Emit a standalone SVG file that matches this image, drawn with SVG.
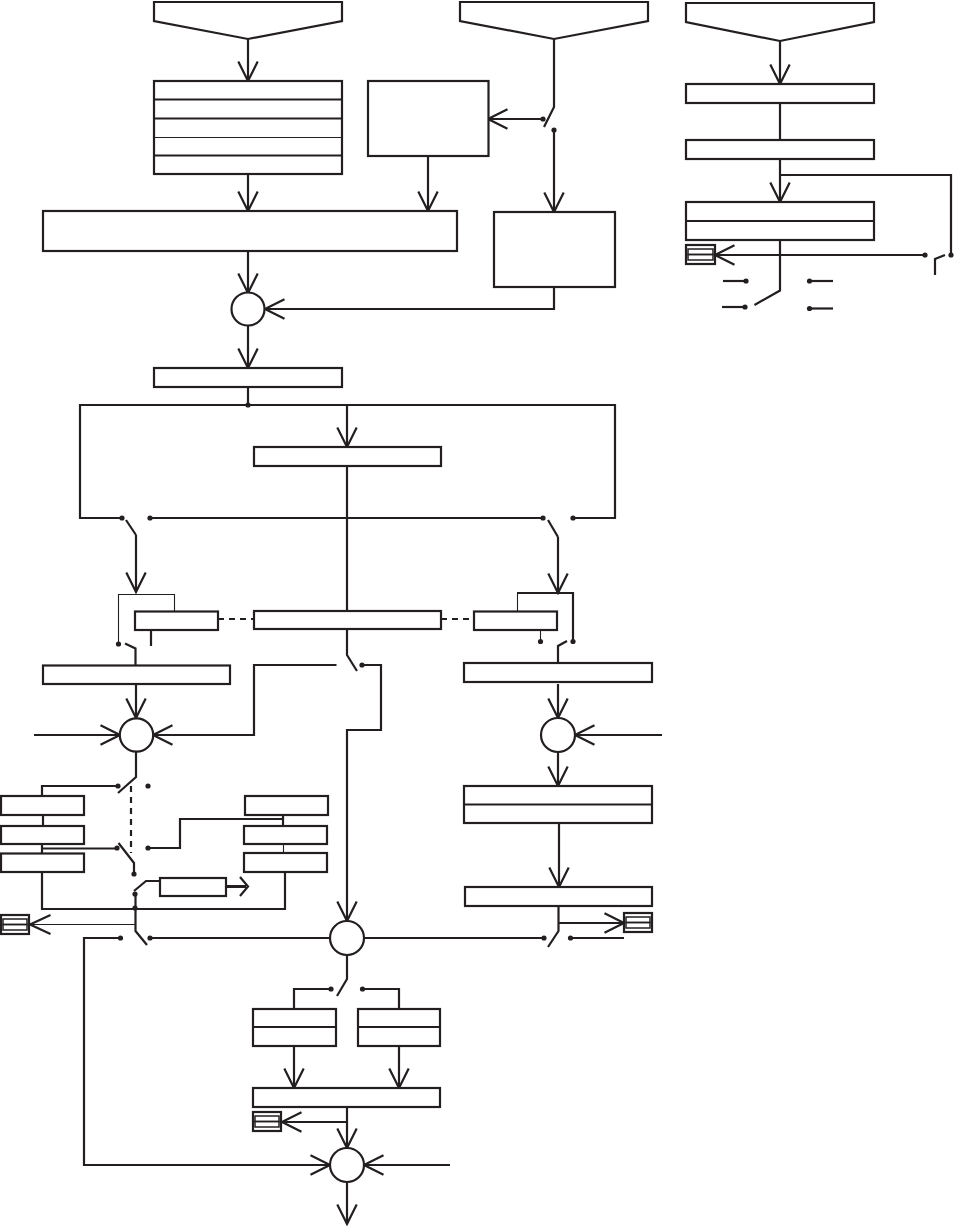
<svg xmlns="http://www.w3.org/2000/svg" width="954" height="1226" viewBox="0 0 954 1226">
<style>
.n{fill:#fff;stroke:#231f20;stroke-width:2.2}
.t{fill:none;stroke:#231f20;stroke-width:1.1}
.l{fill:none;stroke:#231f20;stroke-width:2.2}
.i{fill:none;stroke:#231f20;stroke-width:1.5}
.s{fill:none;stroke:#231f20;stroke-width:2.2;stroke-dasharray:6 5}
.a{marker-end:url(#arrow)}
.d{fill:#231f20}
</style>
<defs>
<marker id="arrow" markerUnits="userSpaceOnUse" viewBox="-22 -12 24 24" refX="0" refY="0" markerWidth="24" markerHeight="24" orient="auto">
<path d="M-19.500,-9.700 L0,0 L-19.500,9.700" fill="none" stroke="#231f20" stroke-width="2.200"/>
</marker>
<g id="dot"><circle r="2.600" class="d"/></g>
</defs>
<rect width="954" height="1226" fill="#fff"/>
<g id="connectors">
<path class="l a" d="M248,39V81"/>
<path class="l a" d="M248,174V211"/>
<path class="l a" d="M428,156V211"/>
<path class="l" d="M554,39V107L544,127"/>
<path class="l a" d="M543,119H488"/>
<path class="l a" d="M554,130V212"/>
<path class="l a" d="M248,251V293"/>
<path class="l a" d="M554,287V309H265"/>
<path class="l a" d="M248,326V368"/>
<path class="l" d="M248,387V405"/>
<path class="l" d="M122,518H80V405H615V518H573"/>
<path class="l a" d="M347,405V447"/>
<path class="l" d="M347,466V611"/>
<path class="l" d="M150,518H543"/>
<path class="l" d="M126,520L136,535"/>
<path class="l a" d="M136,535V592"/>
<path class="l" d="M548,520L558,537"/>
<path class="l a" d="M558,537V593"/>
<path class="t" d="M118.500,644V594.500H174.500V611"/>
<path class="l" d="M151,630V646"/>
<path class="l" d="M125,643.500L135.500,648.500V665"/>
<path class="s" d="M218,619H254"/>
<path class="s" d="M441,619H474"/>
<path class="t" d="M517.500,611V593"/>
<path class="l" d="M517,593H573V641"/>
<path class="t" d="M540.500,630V641"/>
<path class="l" d="M567,641L558,646V663"/>
<path class="l a" d="M136,684V718"/>
<path class="l a" d="M34,735H120"/>
<path class="l a" d="M336.500,665H254V735H153"/>
<path class="l" d="M347,630V655L357,671"/>
<path class="l a" d="M362,665H381V730H347V921"/>
<path class="l" d="M136,752V777L118,793"/>
<path class="l" d="M118,786H42V796"/>
<path class="l" d="M43,815V826"/>
<path class="l" d="M42,844V853"/>
<path class="l" d="M43,848.500H117"/>
<path class="l" d="M118.500,843L134,863V874"/>
<path class="s" d="M131,786V853"/>
<path class="l" d="M148,848H180V819H283V826"/>
<path class="l" d="M283,815V819"/>
<path class="t" d="M283.500,844V853"/>
<path class="l" d="M42,872V909H285V872"/>
<path class="l" d="M134,891L146,881H160"/>
<path class="l" style="stroke-width:3" d="M226,886.500H246"/>
<path class="l" d="M240,877L248,886.500L240,896"/>
<path class="l" d="M135.500,894V931L147,945"/>
<path class="t" d="M135,924.500H32"/>
<path class="l" d="M50.500,915L30,924.500L50.500,934"/>
<path class="l a" d="M120,938H84V1165H330"/>
<path class="l" d="M150,938H330"/>
<path class="l a" d="M558,684V718"/>
<path class="l a" d="M662,735H575"/>
<path class="l a" d="M558,752V786"/>
<path class="l a" d="M559,823V887"/>
<path class="l" d="M558.500,906V931L548,947"/>
<path class="l a" d="M558.500,923H624"/>
<path class="l" d="M364,938H544"/>
<path class="l" d="M570.500,938H624"/>
<path class="l" d="M347,955V979L337,996"/>
<path class="l" d="M331,989H294V1009"/>
<path class="l" d="M362.500,989H399V1009"/>
<path class="l a" d="M294,1046V1088"/>
<path class="l a" d="M399,1046V1088"/>
<path class="l a" d="M347,1107V1148"/>
<path class="l a" d="M347,1122H282"/>
<path class="l a" d="M450,1165H364"/>
<path class="l a" d="M347,1182V1224"/>
<path class="l a" d="M780,41V84"/>
<path class="l" d="M780,103V140"/>
<path class="l a" d="M780,159V202"/>
<path class="l" d="M780,175H951V255"/>
<path class="l" d="M780,240V290.500L754.500,305"/>
<path class="l a" d="M925,255H715"/>
<path class="l" d="M945,255L935,259V275"/>
<path class="l" d="M723,281H746"/>
<path class="l" d="M809.500,281H833"/>
<path class="l" d="M722,307H745"/>
<path class="l" d="M809.500,308.500H833"/>
<use href="#dot" x="543" y="119"/><use href="#dot" x="554" y="130"/>
<use href="#dot" x="248" y="405"/>
<use href="#dot" x="122" y="518"/><use href="#dot" x="150" y="518"/><use href="#dot" x="543" y="518"/><use href="#dot" x="573" y="518"/>
<use href="#dot" x="118.500" y="644"/><use href="#dot" x="573" y="641.500"/><use href="#dot" x="540.500" y="641.500"/>
<use href="#dot" x="362" y="665"/>
<use href="#dot" x="118" y="786"/><use href="#dot" x="148" y="786"/><use href="#dot" x="117" y="848"/><use href="#dot" x="148" y="848"/>
<use href="#dot" x="134" y="874"/><use href="#dot" x="135" y="894"/><use href="#dot" x="135" y="908"/>
<use href="#dot" x="120.500" y="938"/><use href="#dot" x="150" y="938"/><use href="#dot" x="544" y="938"/><use href="#dot" x="570.500" y="938"/>
<use href="#dot" x="331" y="989"/><use href="#dot" x="362.500" y="989"/>
<use href="#dot" x="925" y="255"/><use href="#dot" x="951" y="255"/>
<use href="#dot" x="746" y="281"/><use href="#dot" x="809.500" y="281"/><use href="#dot" x="745" y="307"/><use href="#dot" x="809.500" y="308.500"/>
</g>
<g id="input-1"><path class="n" d="M154,2H342V21L248,39L154,21Z"/></g>
<g id="input-2"><path class="n" d="M460,2H648V21L554,39L460,21Z"/></g>
<g id="input-3"><path class="n" d="M686,3H874V22L780,41L686,22Z"/></g>
<g id="stack-1"><rect class="n" x="154" y="81" width="188" height="93"/><path class="l" d="M154,99.500H342M154,118.500H342M154,155.500H342"/><path class="t" d="M154,137.500H342"/></g>
<g id="box-a"><rect class="n" x="368" y="81" width="120.500" height="75"/></g>
<g id="box-wide"><rect class="n" x="43" y="211" width="414" height="40"/></g>
<g id="box-b"><rect class="n" x="494" y="212" width="121" height="75"/></g>
<g id="sum-1"><circle class="n" cx="248" cy="309" r="16.500"/></g>
<g id="box-c"><rect class="n" x="154" y="368" width="188" height="19"/></g>
<g id="box-d"><rect class="n" x="254" y="447" width="187" height="19"/></g>
<g id="box-left"><rect class="n" x="135" y="611.500" width="83" height="18.500"/></g>
<g id="box-center"><rect class="n" x="254" y="611" width="187" height="18"/></g>
<g id="box-right"><rect class="n" x="474" y="611.500" width="83" height="18.500"/></g>
<g id="box-e"><rect class="n" x="43" y="665.500" width="187" height="18.500"/></g>
<g id="box-f"><rect class="n" x="464" y="663" width="188" height="19"/></g>
<g id="sum-2"><circle class="n" cx="136.500" cy="735" r="16.700"/></g>
<g id="sum-3"><circle class="n" cx="558" cy="735" r="17"/></g>
<g id="box-l1"><rect class="n" x="1" y="796" width="83" height="19"/></g>
<g id="box-l2"><rect class="n" x="1" y="826" width="83" height="18"/></g>
<g id="box-l3"><rect class="n" x="1" y="853.500" width="83" height="18.500"/></g>
<g id="box-r1"><rect class="n" x="245" y="796" width="83" height="19"/></g>
<g id="box-r2"><rect class="n" x="244" y="826" width="83" height="18"/></g>
<g id="box-r3"><rect class="n" x="244" y="853" width="83" height="19"/></g>
<g id="box-g"><rect class="n" x="160" y="878" width="66" height="18"/></g>
<g id="box-h"><rect class="n" x="464" y="786" width="188" height="37"/><path class="l" d="M464,804.500H652"/></g>
<g id="box-i"><rect class="n" x="465" y="887" width="187" height="19"/></g>
<g id="icon-1"><rect class="n" x="1" y="915" width="28" height="19"/><rect class="i" x="3" y="919" width="24" height="5.500"/><rect class="i" x="3" y="924.500" width="24" height="5.500"/></g>
<g id="icon-2"><rect class="n" x="624" y="913" width="28" height="19"/><rect class="i" x="626" y="917" width="24" height="5.500"/><rect class="i" x="626" y="922.500" width="24" height="5.500"/></g>
<g id="sum-4"><circle class="n" cx="347" cy="938" r="17"/></g>
<g id="box-j"><rect class="n" x="253" y="1009" width="83" height="37"/><path class="l" d="M253,1027H336"/></g>
<g id="box-k"><rect class="n" x="358" y="1009" width="82" height="37"/><path class="l" d="M358,1027H440"/></g>
<g id="box-m"><rect class="n" x="253" y="1088" width="187" height="19"/></g>
<g id="icon-3"><rect class="n" x="253" y="1112" width="28" height="19"/><rect class="i" x="255" y="1116" width="24" height="5.500"/><rect class="i" x="255" y="1121.500" width="24" height="5.500"/></g>
<g id="sum-5"><circle class="n" cx="347" cy="1165" r="17"/></g>
<g id="box-n"><rect class="n" x="686" y="84" width="188" height="19"/></g>
<g id="box-o"><rect class="n" x="686" y="140" width="188" height="19"/></g>
<g id="box-p"><rect class="n" x="686" y="202" width="188" height="38"/><path class="l" d="M686,221H874"/></g>
<g id="icon-4"><rect class="n" x="686" y="245" width="29" height="19"/><rect class="i" x="688" y="249" width="25" height="5.500"/><rect class="i" x="688" y="254.500" width="25" height="5.500"/></g>
</svg>
